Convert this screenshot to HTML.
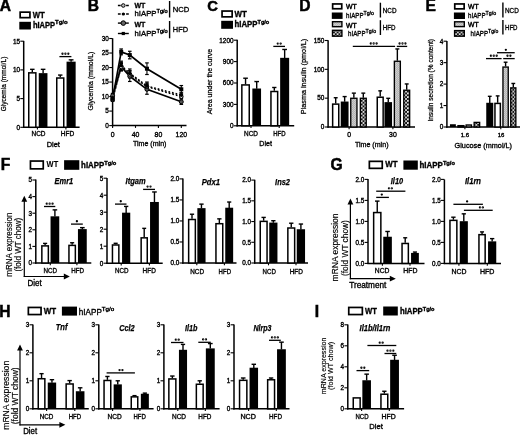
<!DOCTYPE html>
<html><head><meta charset="utf-8"><style>
html,body{margin:0;padding:0;background:#fff;overflow:hidden;}
svg{display:block;will-change:transform;}
text{font-family:"Liberation Sans", sans-serif;stroke:#000;stroke-width:0.35px;}
</style></head><body>
<svg width="520" height="435" viewBox="0 0 520 435">
<defs>
<pattern id="pg" width="2" height="2" patternUnits="userSpaceOnUse">
<rect width="2" height="2" fill="#b4b4b4"/><rect width="1" height="1" fill="#d0d0d0"/><rect x="1" y="1" width="1" height="1" fill="#c8c8c8"/>
</pattern>
<pattern id="pd" width="3.7" height="3.7" patternUnits="userSpaceOnUse">
<rect width="3.7" height="3.7" fill="#111"/><circle cx="0.9" cy="0.9" r="0.95" fill="#fff"/><circle cx="2.75" cy="2.75" r="0.95" fill="#fff"/>
</pattern>
</defs>

<text x="-0.3" y="10.8" font-size="15.6" font-weight="bold" style="stroke-width:0.5px">A</text>
<rect x="20.15" y="12.15" width="9.80" height="5.50" fill="#fff" stroke="#000" stroke-width="1.7"/>
<text x="32.8" y="18.3" font-size="8.96" font-weight="bold" textLength="12.0" lengthAdjust="spacingAndGlyphs">WT</text>
<rect x="19.30" y="21.80" width="11.60" height="7.70" fill="#000"/>
<text x="32.9" y="27.6" font-size="8.74" font-weight="bold" textLength="22.2" lengthAdjust="spacingAndGlyphs">hIAPP</text>
<text x="55.10" y="24.45" font-size="4.84" font-weight="bold" textLength="12.5" lengthAdjust="spacingAndGlyphs">Tg/o</text>
<line x1="23.70" y1="40.90" x2="23.70" y2="128.00" stroke="#000" stroke-width="1.5"/>
<line x1="20.30" y1="127.30" x2="23.70" y2="127.30" stroke="#000" stroke-width="1.1"/>
<text x="20.0" y="129.6" font-size="6.4" text-anchor="end">0</text>
<line x1="20.30" y1="98.60" x2="23.70" y2="98.60" stroke="#000" stroke-width="1.1"/>
<text x="20.0" y="100.89999999999999" font-size="6.4" text-anchor="end">5</text>
<line x1="20.30" y1="69.90" x2="23.70" y2="69.90" stroke="#000" stroke-width="1.1"/>
<text x="20.0" y="72.19999999999999" font-size="6.4" text-anchor="end">10</text>
<line x1="20.30" y1="41.20" x2="23.70" y2="41.20" stroke="#000" stroke-width="1.1"/>
<text x="20.0" y="43.499999999999986" font-size="6.4" text-anchor="end">15</text>
<line x1="23.00" y1="127.30" x2="79.60" y2="127.30" stroke="#000" stroke-width="1.5"/>
<line x1="37.40" y1="127.30" x2="37.40" y2="129.60" stroke="#000" stroke-width="1.1"/>
<line x1="65.90" y1="127.30" x2="65.90" y2="129.60" stroke="#000" stroke-width="1.1"/>
<line x1="32.30" y1="72.20" x2="32.30" y2="69.33" stroke="#000" stroke-width="1.4"/>
<line x1="30.06" y1="69.33" x2="34.54" y2="69.33" stroke="#000" stroke-width="1.4"/>
<rect x="28.75" y="72.85" width="7.10" height="54.45" fill="#fff" stroke="#000" stroke-width="1.5"/>
<line x1="43.10" y1="73.34" x2="43.10" y2="69.33" stroke="#000" stroke-width="1.4"/>
<line x1="40.80" y1="69.33" x2="45.40" y2="69.33" stroke="#000" stroke-width="1.4"/>
<rect x="38.75" y="73.14" width="8.70" height="54.16" fill="#000"/>
<line x1="60.25" y1="77.36" x2="60.25" y2="75.07" stroke="#000" stroke-width="1.4"/>
<line x1="58.04" y1="75.07" x2="62.46" y2="75.07" stroke="#000" stroke-width="1.4"/>
<rect x="56.75" y="78.01" width="7.00" height="49.29" fill="#fff" stroke="#000" stroke-width="1.5"/>
<line x1="71.10" y1="61.86" x2="71.10" y2="59.85" stroke="#000" stroke-width="1.4"/>
<line x1="68.69" y1="59.85" x2="73.51" y2="59.85" stroke="#000" stroke-width="1.4"/>
<rect x="66.55" y="61.66" width="9.10" height="65.64" fill="#000"/>
<line x1="59.40" y1="56.60" x2="71.40" y2="56.60" stroke="#000" stroke-width="1.3"/>
<circle cx="62.50" cy="53.75" r="1.15" fill="#000"/>
<circle cx="65.40" cy="53.75" r="1.15" fill="#000"/>
<circle cx="68.30" cy="53.75" r="1.15" fill="#000"/>
<line x1="62.50" y1="53.75" x2="68.30" y2="53.75" stroke="#888" stroke-width="0.5"/>
<text x="38.5" y="136.2" font-size="6.94" text-anchor="middle" textLength="14" lengthAdjust="spacingAndGlyphs">NCD</text>
<text x="67.5" y="136.2" font-size="6.94" text-anchor="middle" textLength="13.5" lengthAdjust="spacingAndGlyphs">HFD</text>
<text x="53.3" y="147" font-size="7.84" text-anchor="middle" textLength="13.2" lengthAdjust="spacingAndGlyphs">Diet</text>
<text transform="translate(6.4,84) rotate(-90)" font-size="7.39" text-anchor="middle" textLength="54.7" lengthAdjust="spacingAndGlyphs" style="stroke-width:0.26px">Glycemia (mmol/L)</text>
<text x="87.7" y="11.2" font-size="15.6" font-weight="bold" style="stroke-width:0.5px">B</text>
<line x1="112.60" y1="38.30" x2="112.60" y2="126.30" stroke="#000" stroke-width="1.5"/>
<line x1="109.20" y1="125.60" x2="112.60" y2="125.60" stroke="#000" stroke-width="1.1"/>
<text x="108.89999999999999" y="127.89999999999999" font-size="6.4" text-anchor="end">0</text>
<line x1="109.20" y1="111.08" x2="112.60" y2="111.08" stroke="#000" stroke-width="1.1"/>
<text x="108.89999999999999" y="113.38499999999999" font-size="6.4" text-anchor="end">5</text>
<line x1="109.20" y1="96.57" x2="112.60" y2="96.57" stroke="#000" stroke-width="1.1"/>
<text x="108.89999999999999" y="98.86999999999999" font-size="6.4" text-anchor="end">10</text>
<line x1="109.20" y1="82.05" x2="112.60" y2="82.05" stroke="#000" stroke-width="1.1"/>
<text x="108.89999999999999" y="84.35499999999999" font-size="6.4" text-anchor="end">15</text>
<line x1="109.20" y1="67.54" x2="112.60" y2="67.54" stroke="#000" stroke-width="1.1"/>
<text x="108.89999999999999" y="69.83999999999999" font-size="6.4" text-anchor="end">20</text>
<line x1="109.20" y1="53.02" x2="112.60" y2="53.02" stroke="#000" stroke-width="1.1"/>
<text x="108.89999999999999" y="55.32499999999999" font-size="6.4" text-anchor="end">25</text>
<line x1="109.20" y1="38.51" x2="112.60" y2="38.51" stroke="#000" stroke-width="1.1"/>
<text x="108.89999999999999" y="40.80999999999999" font-size="6.4" text-anchor="end">30</text>
<line x1="111.90" y1="125.60" x2="186.50" y2="125.60" stroke="#000" stroke-width="1.5"/>
<line x1="112.60" y1="125.60" x2="112.60" y2="127.90" stroke="#000" stroke-width="1.1"/>
<line x1="135.50" y1="125.60" x2="135.50" y2="127.90" stroke="#000" stroke-width="1.1"/>
<line x1="158.40" y1="125.60" x2="158.40" y2="127.90" stroke="#000" stroke-width="1.1"/>
<line x1="181.30" y1="125.60" x2="181.30" y2="127.90" stroke="#000" stroke-width="1.1"/>
<text x="112.6" y="136.8" font-size="6.9" text-anchor="middle">0</text>
<text x="135.5" y="136.8" font-size="6.9" text-anchor="middle">40</text>
<text x="158.39999999999998" y="136.8" font-size="6.9" text-anchor="middle">80</text>
<text x="181.3" y="136.8" font-size="6.9" text-anchor="middle">120</text>
<text x="149.7" y="146.2" font-size="7.84" text-anchor="middle" textLength="33.4" lengthAdjust="spacingAndGlyphs">Time (min)</text>
<text transform="translate(93.3,81) rotate(-90)" font-size="7.84" text-anchor="middle" textLength="58.9" lengthAdjust="spacingAndGlyphs" style="stroke-width:0.26px">Glycemia (mmol/L)</text>
<line x1="112.60" y1="97.73" x2="112.60" y2="101.21" stroke="#000" stroke-width="1.1"/>
<line x1="110.80" y1="97.73" x2="114.40" y2="97.73" stroke="#000" stroke-width="1.2"/>
<line x1="110.80" y1="101.21" x2="114.40" y2="101.21" stroke="#000" stroke-width="1.2"/>
<line x1="121.19" y1="63.48" x2="121.19" y2="70.44" stroke="#000" stroke-width="1.1"/>
<line x1="119.39" y1="63.48" x2="122.99" y2="63.48" stroke="#000" stroke-width="1.2"/>
<line x1="119.39" y1="70.44" x2="122.99" y2="70.44" stroke="#000" stroke-width="1.2"/>
<line x1="129.78" y1="70.73" x2="129.78" y2="77.70" stroke="#000" stroke-width="1.1"/>
<line x1="127.98" y1="70.73" x2="131.58" y2="70.73" stroke="#000" stroke-width="1.2"/>
<line x1="127.98" y1="77.70" x2="131.58" y2="77.70" stroke="#000" stroke-width="1.2"/>
<line x1="146.95" y1="83.22" x2="146.95" y2="90.18" stroke="#000" stroke-width="1.1"/>
<line x1="145.15" y1="83.22" x2="148.75" y2="83.22" stroke="#000" stroke-width="1.2"/>
<line x1="145.15" y1="90.18" x2="148.75" y2="90.18" stroke="#000" stroke-width="1.2"/>
<line x1="181.30" y1="94.83" x2="181.30" y2="98.31" stroke="#000" stroke-width="1.1"/>
<line x1="179.50" y1="94.83" x2="183.10" y2="94.83" stroke="#000" stroke-width="1.2"/>
<line x1="179.50" y1="98.31" x2="183.10" y2="98.31" stroke="#000" stroke-width="1.2"/>
<line x1="112.60" y1="95.70" x2="112.60" y2="100.34" stroke="#000" stroke-width="1.1"/>
<line x1="110.80" y1="95.70" x2="114.40" y2="95.70" stroke="#000" stroke-width="1.2"/>
<line x1="110.80" y1="100.34" x2="114.40" y2="100.34" stroke="#000" stroke-width="1.2"/>
<line x1="121.19" y1="61.15" x2="121.19" y2="69.86" stroke="#000" stroke-width="1.1"/>
<line x1="119.39" y1="61.15" x2="122.99" y2="61.15" stroke="#000" stroke-width="1.2"/>
<line x1="119.39" y1="69.86" x2="122.99" y2="69.86" stroke="#000" stroke-width="1.2"/>
<line x1="129.78" y1="68.99" x2="129.78" y2="77.70" stroke="#000" stroke-width="1.1"/>
<line x1="127.98" y1="68.99" x2="131.58" y2="68.99" stroke="#000" stroke-width="1.2"/>
<line x1="127.98" y1="77.70" x2="131.58" y2="77.70" stroke="#000" stroke-width="1.2"/>
<line x1="146.95" y1="82.05" x2="146.95" y2="90.18" stroke="#000" stroke-width="1.1"/>
<line x1="145.15" y1="82.05" x2="148.75" y2="82.05" stroke="#000" stroke-width="1.2"/>
<line x1="145.15" y1="90.18" x2="148.75" y2="90.18" stroke="#000" stroke-width="1.2"/>
<line x1="181.30" y1="92.80" x2="181.30" y2="97.44" stroke="#000" stroke-width="1.1"/>
<line x1="179.50" y1="92.80" x2="183.10" y2="92.80" stroke="#000" stroke-width="1.2"/>
<line x1="179.50" y1="97.44" x2="183.10" y2="97.44" stroke="#000" stroke-width="1.2"/>
<line x1="112.60" y1="93.38" x2="112.60" y2="98.02" stroke="#000" stroke-width="1.1"/>
<line x1="110.80" y1="93.38" x2="114.40" y2="93.38" stroke="#000" stroke-width="1.2"/>
<line x1="110.80" y1="98.02" x2="114.40" y2="98.02" stroke="#000" stroke-width="1.2"/>
<line x1="121.19" y1="62.31" x2="121.19" y2="71.02" stroke="#000" stroke-width="1.1"/>
<line x1="119.39" y1="62.31" x2="122.99" y2="62.31" stroke="#000" stroke-width="1.2"/>
<line x1="119.39" y1="71.02" x2="122.99" y2="71.02" stroke="#000" stroke-width="1.2"/>
<line x1="129.78" y1="71.02" x2="129.78" y2="81.47" stroke="#000" stroke-width="1.1"/>
<line x1="127.98" y1="71.02" x2="131.58" y2="71.02" stroke="#000" stroke-width="1.2"/>
<line x1="127.98" y1="81.47" x2="131.58" y2="81.47" stroke="#000" stroke-width="1.2"/>
<line x1="146.95" y1="84.38" x2="146.95" y2="94.25" stroke="#000" stroke-width="1.1"/>
<line x1="145.15" y1="84.38" x2="148.75" y2="84.38" stroke="#000" stroke-width="1.2"/>
<line x1="145.15" y1="94.25" x2="148.75" y2="94.25" stroke="#000" stroke-width="1.2"/>
<line x1="181.30" y1="99.18" x2="181.30" y2="104.41" stroke="#000" stroke-width="1.1"/>
<line x1="179.50" y1="99.18" x2="183.10" y2="99.18" stroke="#000" stroke-width="1.2"/>
<line x1="179.50" y1="104.41" x2="183.10" y2="104.41" stroke="#000" stroke-width="1.2"/>
<line x1="112.60" y1="96.57" x2="112.60" y2="101.21" stroke="#000" stroke-width="1.1"/>
<line x1="110.80" y1="96.57" x2="114.40" y2="96.57" stroke="#000" stroke-width="1.2"/>
<line x1="110.80" y1="101.21" x2="114.40" y2="101.21" stroke="#000" stroke-width="1.2"/>
<line x1="121.19" y1="48.96" x2="121.19" y2="54.77" stroke="#000" stroke-width="1.1"/>
<line x1="119.39" y1="48.96" x2="122.99" y2="48.96" stroke="#000" stroke-width="1.2"/>
<line x1="119.39" y1="54.77" x2="122.99" y2="54.77" stroke="#000" stroke-width="1.2"/>
<line x1="129.78" y1="51.28" x2="129.78" y2="58.83" stroke="#000" stroke-width="1.1"/>
<line x1="127.98" y1="51.28" x2="131.58" y2="51.28" stroke="#000" stroke-width="1.2"/>
<line x1="127.98" y1="58.83" x2="131.58" y2="58.83" stroke="#000" stroke-width="1.2"/>
<line x1="146.95" y1="62.90" x2="146.95" y2="74.51" stroke="#000" stroke-width="1.1"/>
<line x1="145.15" y1="62.90" x2="148.75" y2="62.90" stroke="#000" stroke-width="1.2"/>
<line x1="145.15" y1="74.51" x2="148.75" y2="74.51" stroke="#000" stroke-width="1.2"/>
<line x1="181.30" y1="85.54" x2="181.30" y2="93.09" stroke="#000" stroke-width="1.1"/>
<line x1="179.50" y1="85.54" x2="183.10" y2="85.54" stroke="#000" stroke-width="1.2"/>
<line x1="179.50" y1="93.09" x2="183.10" y2="93.09" stroke="#000" stroke-width="1.2"/>
<polyline points="112.60,95.70 121.19,66.67 129.78,76.25 146.95,89.31 181.30,101.80" fill="none" stroke="#000" stroke-width="1.7"/>
<polyline points="112.60,98.89 121.19,51.86 129.78,55.06 146.95,68.70 181.30,89.31" fill="none" stroke="#000" stroke-width="1.7"/>
<polyline points="112.60,99.47 121.19,66.96 129.78,74.22 146.95,86.70 181.30,96.57" fill="none" stroke="#000" stroke-width="1.5" stroke-dasharray="1.7,2.0"/>
<polyline points="112.60,98.02 121.19,65.51 129.78,73.35 146.95,86.12 181.30,95.12" fill="none" stroke="#000" stroke-width="1.7" stroke-dasharray="1.7,2.0"/>
<circle cx="112.60" cy="95.70" r="2.0" fill="#555" stroke="#000" stroke-width="1"/>
<circle cx="121.19" cy="66.67" r="2.0" fill="#555" stroke="#000" stroke-width="1"/>
<circle cx="129.78" cy="76.25" r="2.0" fill="#555" stroke="#000" stroke-width="1"/>
<circle cx="146.95" cy="89.31" r="2.0" fill="#555" stroke="#000" stroke-width="1"/>
<circle cx="181.30" cy="101.80" r="2.0" fill="#555" stroke="#000" stroke-width="1"/>
<circle cx="112.60" cy="99.47" r="1.8" fill="#fff" stroke="#000" stroke-width="1"/>
<circle cx="121.19" cy="66.96" r="1.8" fill="#fff" stroke="#000" stroke-width="1"/>
<circle cx="129.78" cy="74.22" r="1.8" fill="#fff" stroke="#000" stroke-width="1"/>
<circle cx="146.95" cy="86.70" r="1.8" fill="#fff" stroke="#000" stroke-width="1"/>
<circle cx="181.30" cy="96.57" r="1.8" fill="#fff" stroke="#000" stroke-width="1"/>
<circle cx="112.60" cy="98.02" r="1.9" fill="#000"/>
<circle cx="121.19" cy="65.51" r="1.9" fill="#000"/>
<circle cx="129.78" cy="73.35" r="1.9" fill="#000"/>
<circle cx="146.95" cy="86.12" r="1.9" fill="#000"/>
<circle cx="181.30" cy="95.12" r="1.9" fill="#000"/>
<rect x="110.60" y="96.89" width="4.00" height="4.00" fill="#000"/>
<rect x="119.19" y="49.86" width="4.00" height="4.00" fill="#000"/>
<rect x="127.78" y="53.06" width="4.00" height="4.00" fill="#000"/>
<rect x="144.95" y="66.70" width="4.00" height="4.00" fill="#000"/>
<rect x="179.30" y="87.31" width="4.00" height="4.00" fill="#000"/>
<line x1="117.90" y1="5.50" x2="128.80" y2="5.50" stroke="#000" stroke-width="1.4" stroke-dasharray="2.8,1.3"/>
<circle cx="123.3" cy="5.5" r="1.8" fill="#bbb" stroke="#000" stroke-width="1.0"/>
<line x1="117.90" y1="14.00" x2="128.80" y2="14.00" stroke="#000" stroke-width="1.5" stroke-dasharray="2.8,1.3"/>
<circle cx="123.3" cy="14.0" r="1.6" fill="#000"/>
<line x1="117.90" y1="23.10" x2="128.80" y2="23.10" stroke="#000" stroke-width="1.4"/>
<circle cx="123.3" cy="23.1" r="2.3" fill="#666" stroke="#000" stroke-width="1.0"/>
<line x1="117.90" y1="33.50" x2="128.80" y2="33.50" stroke="#000" stroke-width="1.4"/>
<rect x="121.70" y="31.90" width="3.20" height="3.20" fill="#000"/>
<text x="134.5" y="7.5" font-size="8.06" font-weight="bold" textLength="10.9" lengthAdjust="spacingAndGlyphs">WT</text>
<text x="134.5" y="16.2" font-size="8.06" textLength="22.0" lengthAdjust="spacingAndGlyphs">hIAPP</text>
<text x="156.50" y="13.30" font-size="4.46" textLength="11.2" lengthAdjust="spacingAndGlyphs">Tg/o</text>
<text x="134.5" y="26.7" font-size="8.06" font-weight="bold" textLength="10.9" lengthAdjust="spacingAndGlyphs">WT</text>
<text x="134.5" y="35.8" font-size="8.06" textLength="22.0" lengthAdjust="spacingAndGlyphs">hIAPP</text>
<text x="156.50" y="32.90" font-size="4.46" textLength="11.2" lengthAdjust="spacingAndGlyphs">Tg/o</text>
<line x1="169.60" y1="1.00" x2="169.60" y2="17.50" stroke="#000" stroke-width="1.4"/>
<line x1="169.60" y1="21.00" x2="169.60" y2="38.30" stroke="#000" stroke-width="1.4"/>
<text x="172.8" y="12.4" font-size="8.06" textLength="16.5" lengthAdjust="spacingAndGlyphs">NCD</text>
<text x="172.8" y="32.3" font-size="8.06" textLength="15.2" lengthAdjust="spacingAndGlyphs">HFD</text>
<text x="207.2" y="11.2" font-size="14.8" font-weight="bold" style="stroke-width:0.5px">C</text>
<rect x="222.05" y="11.05" width="10.10" height="5.80" fill="#fff" stroke="#000" stroke-width="1.7"/>
<text x="234.5" y="17.3" font-size="8.74" font-weight="bold" textLength="12.3" lengthAdjust="spacingAndGlyphs">WT</text>
<rect x="221.20" y="20.80" width="11.80" height="8.00" fill="#000"/>
<text x="234.5" y="27.0" font-size="8.74" font-weight="bold" textLength="23" lengthAdjust="spacingAndGlyphs">hIAPP</text>
<text x="257.50" y="23.85" font-size="4.84" font-weight="bold" textLength="11.8" lengthAdjust="spacingAndGlyphs">Tg/o</text>
<line x1="237.20" y1="39.70" x2="237.20" y2="126.50" stroke="#000" stroke-width="1.5"/>
<line x1="233.80" y1="125.80" x2="237.20" y2="125.80" stroke="#000" stroke-width="1.1"/>
<text x="233.49999999999997" y="128.1" font-size="6.4" text-anchor="end">0</text>
<line x1="233.80" y1="104.40" x2="237.20" y2="104.40" stroke="#000" stroke-width="1.1"/>
<text x="233.49999999999997" y="106.7" font-size="6.4" text-anchor="end">300</text>
<line x1="233.80" y1="83.00" x2="237.20" y2="83.00" stroke="#000" stroke-width="1.1"/>
<text x="233.49999999999997" y="85.3" font-size="6.4" text-anchor="end">600</text>
<line x1="233.80" y1="61.60" x2="237.20" y2="61.60" stroke="#000" stroke-width="1.1"/>
<text x="233.49999999999997" y="63.89999999999999" font-size="6.4" text-anchor="end">900</text>
<line x1="233.80" y1="40.20" x2="237.20" y2="40.20" stroke="#000" stroke-width="1.1"/>
<text x="233.49999999999997" y="42.5" font-size="6.4" text-anchor="end">1200</text>
<line x1="236.50" y1="125.80" x2="294.20" y2="125.80" stroke="#000" stroke-width="1.5"/>
<line x1="251.00" y1="125.80" x2="251.00" y2="128.10" stroke="#000" stroke-width="1.1"/>
<line x1="279.20" y1="125.80" x2="279.20" y2="128.10" stroke="#000" stroke-width="1.1"/>
<line x1="245.55" y1="84.28" x2="245.55" y2="78.22" stroke="#000" stroke-width="1.4"/>
<line x1="243.23" y1="78.22" x2="247.87" y2="78.22" stroke="#000" stroke-width="1.4"/>
<rect x="241.85" y="84.93" width="7.40" height="40.87" fill="#fff" stroke="#000" stroke-width="1.5"/>
<line x1="256.70" y1="88.71" x2="256.70" y2="81.57" stroke="#000" stroke-width="1.4"/>
<line x1="254.40" y1="81.57" x2="259.00" y2="81.57" stroke="#000" stroke-width="1.4"/>
<rect x="252.35" y="88.51" width="8.70" height="37.29" fill="#000"/>
<line x1="274.30" y1="90.85" x2="274.30" y2="87.49" stroke="#000" stroke-width="1.4"/>
<line x1="272.17" y1="87.49" x2="276.43" y2="87.49" stroke="#000" stroke-width="1.4"/>
<rect x="270.95" y="91.50" width="6.70" height="34.30" fill="#fff" stroke="#000" stroke-width="1.5"/>
<line x1="284.65" y1="58.03" x2="284.65" y2="49.47" stroke="#000" stroke-width="1.4"/>
<line x1="282.27" y1="49.47" x2="287.03" y2="49.47" stroke="#000" stroke-width="1.4"/>
<rect x="280.15" y="57.83" width="9.00" height="67.97" fill="#000"/>
<line x1="273.30" y1="46.40" x2="285.00" y2="46.40" stroke="#000" stroke-width="1.3"/>
<circle cx="277.75" cy="43.55" r="1.15" fill="#000"/>
<circle cx="280.65" cy="43.55" r="1.15" fill="#000"/>
<line x1="277.75" y1="43.55" x2="280.65" y2="43.55" stroke="#888" stroke-width="0.5"/>
<text x="251.0" y="135.6" font-size="6.94" text-anchor="middle" textLength="13.9" lengthAdjust="spacingAndGlyphs">NCD</text>
<text x="279.4" y="135.6" font-size="6.94" text-anchor="middle" textLength="12.3" lengthAdjust="spacingAndGlyphs">HFD</text>
<text x="265.6" y="145.7" font-size="7.84" text-anchor="middle" textLength="12.6" lengthAdjust="spacingAndGlyphs">Diet</text>
<text transform="translate(212.0,81.5) rotate(-90)" font-size="7.84" text-anchor="middle" textLength="65.5" lengthAdjust="spacingAndGlyphs" style="stroke-width:0.26px">Area under the curve</text>
<text x="299.3" y="11.0" font-size="15.6" font-weight="bold" style="stroke-width:0.5px">D</text>
<rect x="332.65" y="3.95" width="9.10" height="4.80" fill="#fff" stroke="#000" stroke-width="1.7"/>
<rect x="331.80" y="12.50" width="10.80" height="6.40" fill="#000"/>
<rect x="332.50" y="21.70" width="9.40" height="5.00" fill="url(#pg)" stroke="#000" stroke-width="1.4"/>
<rect x="332.50" y="30.30" width="9.40" height="5.90" fill="url(#pd)" stroke="#000" stroke-width="1.4"/>
<text x="346.0" y="9.2" font-size="7.06" textLength="10.8" lengthAdjust="spacingAndGlyphs" style="stroke-width:0.45px">WT</text>
<text x="346.0" y="17.9" font-size="7.62" textLength="17.5" lengthAdjust="spacingAndGlyphs">hIAPP</text>
<text x="363.50" y="15.16" font-size="5.40" textLength="10.5" lengthAdjust="spacingAndGlyphs">Tg/o</text>
<text x="346.0" y="27.6" font-size="7.06" textLength="10.8" lengthAdjust="spacingAndGlyphs" style="stroke-width:0.45px">WT</text>
<text x="348.1" y="35.6" font-size="7.62" textLength="17.5" lengthAdjust="spacingAndGlyphs">hIAPP</text>
<text x="365.60" y="32.86" font-size="5.40" textLength="10.5" lengthAdjust="spacingAndGlyphs">Tg/o</text>
<line x1="380.40" y1="2.70" x2="380.40" y2="17.50" stroke="#000" stroke-width="1.4"/>
<line x1="380.40" y1="20.20" x2="380.40" y2="35.00" stroke="#000" stroke-width="1.4"/>
<text x="382.8" y="13.0" font-size="7.84" textLength="13.7" lengthAdjust="spacingAndGlyphs">NCD</text>
<text x="382.8" y="29.9" font-size="7.84" textLength="12.7" lengthAdjust="spacingAndGlyphs">HFD</text>
<line x1="328.10" y1="40.20" x2="328.10" y2="127.70" stroke="#000" stroke-width="1.5"/>
<line x1="324.70" y1="127.00" x2="328.10" y2="127.00" stroke="#000" stroke-width="1.1"/>
<text x="324.40000000000003" y="129.3" font-size="6.4" text-anchor="end">0</text>
<line x1="324.70" y1="98.17" x2="328.10" y2="98.17" stroke="#000" stroke-width="1.1"/>
<text x="324.40000000000003" y="100.46666666666667" font-size="6.4" text-anchor="end">50</text>
<line x1="324.70" y1="69.33" x2="328.10" y2="69.33" stroke="#000" stroke-width="1.1"/>
<text x="324.40000000000003" y="71.63333333333334" font-size="6.4" text-anchor="end">100</text>
<line x1="324.70" y1="40.50" x2="328.10" y2="40.50" stroke="#000" stroke-width="1.1"/>
<text x="324.40000000000003" y="42.8" font-size="6.4" text-anchor="end">150</text>
<line x1="327.40" y1="127.00" x2="415.00" y2="127.00" stroke="#000" stroke-width="1.5"/>
<line x1="349.10" y1="127.00" x2="349.10" y2="129.30" stroke="#000" stroke-width="1.1"/>
<line x1="392.90" y1="127.00" x2="392.90" y2="129.30" stroke="#000" stroke-width="1.1"/>
<line x1="335.70" y1="103.47" x2="335.70" y2="97.73" stroke="#000" stroke-width="1.4"/>
<line x1="333.74" y1="97.73" x2="337.66" y2="97.73" stroke="#000" stroke-width="1.4"/>
<rect x="332.65" y="104.12" width="6.10" height="22.88" fill="#fff" stroke="#000" stroke-width="1.5"/>
<line x1="344.65" y1="101.74" x2="344.65" y2="96.58" stroke="#000" stroke-width="1.4"/>
<line x1="342.61" y1="96.58" x2="346.69" y2="96.58" stroke="#000" stroke-width="1.4"/>
<rect x="340.75" y="101.54" width="7.80" height="25.46" fill="#000"/>
<line x1="353.85" y1="97.73" x2="353.85" y2="93.13" stroke="#000" stroke-width="1.4"/>
<line x1="351.81" y1="93.13" x2="355.89" y2="93.13" stroke="#000" stroke-width="1.4"/>
<rect x="350.75" y="98.28" width="6.20" height="28.72" fill="url(#pg)" stroke="#000" stroke-width="1.35"/>
<line x1="363.30" y1="97.73" x2="363.30" y2="93.13" stroke="#000" stroke-width="1.4"/>
<line x1="361.34" y1="93.13" x2="365.26" y2="93.13" stroke="#000" stroke-width="1.4"/>
<rect x="360.35" y="98.28" width="5.90" height="28.72" fill="url(#pd)" stroke="#000" stroke-width="1.35"/>
<line x1="380.20" y1="96.58" x2="380.20" y2="90.84" stroke="#000" stroke-width="1.4"/>
<line x1="378.30" y1="90.84" x2="382.10" y2="90.84" stroke="#000" stroke-width="1.4"/>
<rect x="377.25" y="97.23" width="5.90" height="29.77" fill="#fff" stroke="#000" stroke-width="1.5"/>
<line x1="388.25" y1="102.32" x2="388.25" y2="98.30" stroke="#000" stroke-width="1.4"/>
<line x1="386.26" y1="98.30" x2="390.24" y2="98.30" stroke="#000" stroke-width="1.4"/>
<rect x="384.45" y="102.12" width="7.60" height="24.88" fill="#000"/>
<line x1="397.35" y1="60.70" x2="397.35" y2="48.94" stroke="#000" stroke-width="1.4"/>
<line x1="395.36" y1="48.94" x2="399.34" y2="48.94" stroke="#000" stroke-width="1.4"/>
<rect x="394.35" y="61.25" width="6.00" height="65.75" fill="url(#pg)" stroke="#000" stroke-width="1.35"/>
<line x1="406.70" y1="89.69" x2="406.70" y2="83.95" stroke="#000" stroke-width="1.4"/>
<line x1="404.74" y1="83.95" x2="408.66" y2="83.95" stroke="#000" stroke-width="1.4"/>
<rect x="403.75" y="90.24" width="5.90" height="36.76" fill="url(#pd)" stroke="#000" stroke-width="1.35"/>
<line x1="352.80" y1="46.40" x2="395.10" y2="46.40" stroke="#000" stroke-width="1.3"/>
<line x1="396.80" y1="46.40" x2="407.20" y2="46.40" stroke="#000" stroke-width="1.3"/>
<circle cx="370.80" cy="43.50" r="1.15" fill="#000"/>
<circle cx="373.70" cy="43.50" r="1.15" fill="#000"/>
<circle cx="376.60" cy="43.50" r="1.15" fill="#000"/>
<line x1="370.80" y1="43.50" x2="376.60" y2="43.50" stroke="#888" stroke-width="0.5"/>
<circle cx="399.60" cy="43.50" r="1.15" fill="#000"/>
<circle cx="402.50" cy="43.50" r="1.15" fill="#000"/>
<circle cx="405.40" cy="43.50" r="1.15" fill="#000"/>
<line x1="399.60" y1="43.50" x2="405.40" y2="43.50" stroke="#888" stroke-width="0.5"/>
<text x="349.1" y="137.1" font-size="6.9" text-anchor="middle">0</text>
<text x="392.9" y="137.1" font-size="6.9" text-anchor="middle">30</text>
<text x="371.7" y="147.3" font-size="7.84" text-anchor="middle" textLength="33.6" lengthAdjust="spacingAndGlyphs">Time (min)</text>
<text transform="translate(305.6,76.5) rotate(-90)" font-size="8.06" text-anchor="middle" textLength="75.5" lengthAdjust="spacingAndGlyphs" style="stroke-width:0.26px">Plasma insulin (pmol/L)</text>
<text x="425.5" y="11.0" font-size="15.6" font-weight="bold" style="stroke-width:0.5px">E</text>
<rect x="454.75" y="3.95" width="9.40" height="4.90" fill="#fff" stroke="#000" stroke-width="1.7"/>
<rect x="453.90" y="12.50" width="11.10" height="6.50" fill="#000"/>
<rect x="454.60" y="21.80" width="9.70" height="4.80" fill="url(#pg)" stroke="#000" stroke-width="1.4"/>
<rect x="454.60" y="30.60" width="9.70" height="5.60" fill="url(#pd)" stroke="#000" stroke-width="1.4"/>
<text x="468.1" y="9.0" font-size="7.06" textLength="10.7" lengthAdjust="spacingAndGlyphs" style="stroke-width:0.45px">WT</text>
<text x="468.1" y="17.8" font-size="7.62" textLength="17.5" lengthAdjust="spacingAndGlyphs">hIAPP</text>
<text x="485.60" y="15.06" font-size="5.40" textLength="10.5" lengthAdjust="spacingAndGlyphs">Tg/o</text>
<text x="468.1" y="26.9" font-size="7.06" textLength="10.7" lengthAdjust="spacingAndGlyphs" style="stroke-width:0.45px">WT</text>
<text x="470.6" y="35.8" font-size="7.62" textLength="17.5" lengthAdjust="spacingAndGlyphs">hIAPP</text>
<text x="488.10" y="33.06" font-size="5.40" textLength="10.2" lengthAdjust="spacingAndGlyphs">Tg/o</text>
<line x1="502.90" y1="2.50" x2="502.90" y2="17.50" stroke="#000" stroke-width="1.4"/>
<line x1="502.90" y1="20.00" x2="502.90" y2="34.40" stroke="#000" stroke-width="1.4"/>
<text x="505.0" y="13.1" font-size="7.84" textLength="13.8" lengthAdjust="spacingAndGlyphs">NCD</text>
<text x="505.0" y="29.8" font-size="7.84" textLength="12.5" lengthAdjust="spacingAndGlyphs">HFD</text>
<line x1="446.90" y1="40.90" x2="446.90" y2="127.70" stroke="#000" stroke-width="1.5"/>
<line x1="443.50" y1="127.00" x2="446.90" y2="127.00" stroke="#000" stroke-width="1.1"/>
<text x="443.2" y="129.3" font-size="6.4" text-anchor="end">0</text>
<line x1="443.50" y1="105.55" x2="446.90" y2="105.55" stroke="#000" stroke-width="1.1"/>
<text x="443.2" y="107.85" font-size="6.4" text-anchor="end">1</text>
<line x1="443.50" y1="84.10" x2="446.90" y2="84.10" stroke="#000" stroke-width="1.1"/>
<text x="443.2" y="86.39999999999999" font-size="6.4" text-anchor="end">2</text>
<line x1="443.50" y1="62.65" x2="446.90" y2="62.65" stroke="#000" stroke-width="1.1"/>
<text x="443.2" y="64.95" font-size="6.4" text-anchor="end">3</text>
<line x1="443.50" y1="41.20" x2="446.90" y2="41.20" stroke="#000" stroke-width="1.1"/>
<text x="443.2" y="43.5" font-size="6.4" text-anchor="end">4</text>
<line x1="446.20" y1="127.00" x2="520.00" y2="127.00" stroke="#000" stroke-width="1.5"/>
<line x1="464.90" y1="127.00" x2="464.90" y2="129.30" stroke="#000" stroke-width="1.1"/>
<line x1="500.80" y1="127.00" x2="500.80" y2="129.30" stroke="#000" stroke-width="1.1"/>
<rect x="449.95" y="124.23" width="5.90" height="2.77" fill="#000"/>
<rect x="458.05" y="125.72" width="5.80" height="1.28" fill="#fff" stroke="#000" stroke-width="1.5"/>
<rect x="466.15" y="124.98" width="5.30" height="2.02" fill="url(#pg)" stroke="#000" stroke-width="1.35"/>
<rect x="474.15" y="122.40" width="5.50" height="4.60" fill="url(#pd)" stroke="#000" stroke-width="1.35"/>
<line x1="489.75" y1="102.98" x2="489.75" y2="96.33" stroke="#000" stroke-width="1.4"/>
<line x1="487.85" y1="96.33" x2="491.65" y2="96.33" stroke="#000" stroke-width="1.4"/>
<rect x="486.25" y="102.78" width="7.00" height="24.22" fill="#000"/>
<line x1="497.65" y1="102.76" x2="497.65" y2="95.90" stroke="#000" stroke-width="1.4"/>
<line x1="495.75" y1="95.90" x2="499.55" y2="95.90" stroke="#000" stroke-width="1.4"/>
<rect x="494.95" y="103.41" width="5.40" height="23.59" fill="#fff" stroke="#000" stroke-width="1.5"/>
<line x1="505.60" y1="66.51" x2="505.60" y2="62.22" stroke="#000" stroke-width="1.4"/>
<line x1="503.70" y1="62.22" x2="507.50" y2="62.22" stroke="#000" stroke-width="1.4"/>
<rect x="502.95" y="67.06" width="5.30" height="59.94" fill="url(#pg)" stroke="#000" stroke-width="1.35"/>
<line x1="513.30" y1="87.32" x2="513.30" y2="83.46" stroke="#000" stroke-width="1.4"/>
<line x1="511.40" y1="83.46" x2="515.20" y2="83.46" stroke="#000" stroke-width="1.4"/>
<rect x="510.75" y="87.87" width="5.10" height="39.13" fill="url(#pd)" stroke="#000" stroke-width="1.35"/>
<line x1="497.00" y1="52.70" x2="514.70" y2="52.70" stroke="#000" stroke-width="1.3"/>
<circle cx="505.85" cy="49.85" r="1.15" fill="#000"/>
<line x1="486.00" y1="58.60" x2="501.60" y2="58.60" stroke="#000" stroke-width="1.3"/>
<circle cx="490.90" cy="55.75" r="1.15" fill="#000"/>
<circle cx="493.80" cy="55.75" r="1.15" fill="#000"/>
<circle cx="496.70" cy="55.75" r="1.15" fill="#000"/>
<line x1="490.90" y1="55.75" x2="496.70" y2="55.75" stroke="#888" stroke-width="0.5"/>
<line x1="503.20" y1="58.60" x2="514.70" y2="58.60" stroke="#000" stroke-width="1.3"/>
<circle cx="507.50" cy="55.75" r="1.15" fill="#000"/>
<circle cx="510.40" cy="55.75" r="1.15" fill="#000"/>
<line x1="507.50" y1="55.75" x2="510.40" y2="55.75" stroke="#888" stroke-width="0.5"/>
<text x="464.8" y="137.0" font-size="6.0" text-anchor="middle">1.6</text>
<text x="501.1" y="137.0" font-size="6.0" text-anchor="middle">16</text>
<text x="483.3" y="148.1" font-size="7.84" text-anchor="middle" textLength="57.4" lengthAdjust="spacingAndGlyphs">Glucose (mmol/L)</text>
<text transform="translate(432.8,80.2) rotate(-90)" font-size="7.28" text-anchor="middle" textLength="82.5" lengthAdjust="spacingAndGlyphs" style="stroke-width:0.26px">Insulin secretion (% content)</text>
<text x="0.7" y="169.9" font-size="15.6" font-weight="bold" style="stroke-width:0.5px">F</text>
<rect x="30.45" y="161.05" width="12.80" height="7.80" fill="#fff" stroke="#000" stroke-width="1.7"/>
<text x="46.6" y="167.3" font-size="8.74" font-weight="bold" textLength="11.6" lengthAdjust="spacingAndGlyphs" style="stroke-width:0.1px">WT</text>
<rect x="64.10" y="160.20" width="15.20" height="9.60" fill="#000"/>
<text x="81.1" y="167.9" font-size="8.74" font-weight="bold" textLength="23.2" lengthAdjust="spacingAndGlyphs">hIAPP</text>
<text x="104.30" y="164.75" font-size="4.84" font-weight="bold" textLength="12" lengthAdjust="spacingAndGlyphs">Tg/o</text>
<line x1="35.80" y1="179.50" x2="35.80" y2="263.70" stroke="#000" stroke-width="1.5"/>
<line x1="32.40" y1="263.00" x2="35.80" y2="263.00" stroke="#000" stroke-width="1.1"/>
<text x="32.1" y="265.3" font-size="6.3" text-anchor="end">0</text>
<line x1="32.40" y1="246.40" x2="35.80" y2="246.40" stroke="#000" stroke-width="1.1"/>
<text x="32.1" y="248.70000000000002" font-size="6.3" text-anchor="end">1</text>
<line x1="32.40" y1="229.80" x2="35.80" y2="229.80" stroke="#000" stroke-width="1.1"/>
<text x="32.1" y="232.10000000000002" font-size="6.3" text-anchor="end">2</text>
<line x1="32.40" y1="213.20" x2="35.80" y2="213.20" stroke="#000" stroke-width="1.1"/>
<text x="32.1" y="215.5" font-size="6.3" text-anchor="end">3</text>
<line x1="32.40" y1="196.60" x2="35.80" y2="196.60" stroke="#000" stroke-width="1.1"/>
<text x="32.1" y="198.9" font-size="6.3" text-anchor="end">4</text>
<line x1="32.40" y1="180.00" x2="35.80" y2="180.00" stroke="#000" stroke-width="1.1"/>
<text x="32.1" y="182.3" font-size="6.3" text-anchor="end">5</text>
<line x1="35.10" y1="263.00" x2="91.30" y2="263.00" stroke="#000" stroke-width="1.5"/>
<line x1="50.30" y1="263.00" x2="50.30" y2="265.30" stroke="#000" stroke-width="1.1"/>
<line x1="76.90" y1="263.00" x2="76.90" y2="265.30" stroke="#000" stroke-width="1.1"/>
<line x1="45.10" y1="245.24" x2="45.10" y2="243.41" stroke="#000" stroke-width="1.4"/>
<line x1="43.03" y1="243.41" x2="47.17" y2="243.41" stroke="#000" stroke-width="1.4"/>
<rect x="41.85" y="245.89" width="6.50" height="17.11" fill="#fff" stroke="#000" stroke-width="1.5"/>
<line x1="54.90" y1="216.52" x2="54.90" y2="209.88" stroke="#000" stroke-width="1.4"/>
<line x1="52.60" y1="209.88" x2="57.20" y2="209.88" stroke="#000" stroke-width="1.4"/>
<rect x="50.55" y="216.32" width="8.70" height="46.68" fill="#000"/>
<line x1="72.15" y1="244.74" x2="72.15" y2="242.75" stroke="#000" stroke-width="1.4"/>
<line x1="70.11" y1="242.75" x2="74.19" y2="242.75" stroke="#000" stroke-width="1.4"/>
<rect x="68.95" y="245.39" width="6.40" height="17.61" fill="#fff" stroke="#000" stroke-width="1.5"/>
<line x1="82.35" y1="229.30" x2="82.35" y2="227.64" stroke="#000" stroke-width="1.4"/>
<line x1="80.03" y1="227.64" x2="84.67" y2="227.64" stroke="#000" stroke-width="1.4"/>
<rect x="77.95" y="229.10" width="8.80" height="33.90" fill="#000"/>
<text x="54.5" y="184.4" font-size="8.62" font-weight="bold" font-style="italic" textLength="18.7" lengthAdjust="spacingAndGlyphs" style="stroke-width:0.25px">Emr1</text>
<text x="50.3" y="273.0" font-size="6.94" text-anchor="middle" textLength="13.5" lengthAdjust="spacingAndGlyphs">NCD</text>
<text x="77.6" y="273.0" font-size="6.94" text-anchor="middle" textLength="12.8" lengthAdjust="spacingAndGlyphs">HFD</text>
<line x1="44.00" y1="206.50" x2="55.30" y2="206.50" stroke="#000" stroke-width="1.3"/>
<circle cx="46.75" cy="203.65" r="1.15" fill="#000"/>
<circle cx="49.65" cy="203.65" r="1.15" fill="#000"/>
<circle cx="52.55" cy="203.65" r="1.15" fill="#000"/>
<line x1="46.75" y1="203.65" x2="52.55" y2="203.65" stroke="#888" stroke-width="0.5"/>
<line x1="71.00" y1="224.10" x2="82.80" y2="224.10" stroke="#000" stroke-width="1.3"/>
<circle cx="76.90" cy="221.25" r="1.15" fill="#000"/>
<line x1="107.00" y1="177.90" x2="107.00" y2="263.90" stroke="#000" stroke-width="1.5"/>
<line x1="103.60" y1="263.20" x2="107.00" y2="263.20" stroke="#000" stroke-width="1.1"/>
<text x="103.3" y="265.5" font-size="6.3" text-anchor="end">0</text>
<line x1="103.60" y1="246.20" x2="107.00" y2="246.20" stroke="#000" stroke-width="1.1"/>
<text x="103.3" y="248.5" font-size="6.3" text-anchor="end">1</text>
<line x1="103.60" y1="229.20" x2="107.00" y2="229.20" stroke="#000" stroke-width="1.1"/>
<text x="103.3" y="231.5" font-size="6.3" text-anchor="end">2</text>
<line x1="103.60" y1="212.20" x2="107.00" y2="212.20" stroke="#000" stroke-width="1.1"/>
<text x="103.3" y="214.5" font-size="6.3" text-anchor="end">3</text>
<line x1="103.60" y1="195.20" x2="107.00" y2="195.20" stroke="#000" stroke-width="1.1"/>
<text x="103.3" y="197.5" font-size="6.3" text-anchor="end">4</text>
<line x1="103.60" y1="178.20" x2="107.00" y2="178.20" stroke="#000" stroke-width="1.1"/>
<text x="103.3" y="180.5" font-size="6.3" text-anchor="end">5</text>
<line x1="106.30" y1="263.20" x2="162.70" y2="263.20" stroke="#000" stroke-width="1.5"/>
<line x1="121.20" y1="263.20" x2="121.20" y2="265.50" stroke="#000" stroke-width="1.1"/>
<line x1="149.40" y1="263.20" x2="149.40" y2="265.50" stroke="#000" stroke-width="1.1"/>
<line x1="115.65" y1="244.33" x2="115.65" y2="243.31" stroke="#000" stroke-width="1.4"/>
<line x1="113.61" y1="243.31" x2="117.69" y2="243.31" stroke="#000" stroke-width="1.4"/>
<rect x="112.45" y="244.98" width="6.40" height="18.22" fill="#fff" stroke="#000" stroke-width="1.5"/>
<line x1="126.15" y1="212.88" x2="126.15" y2="206.42" stroke="#000" stroke-width="1.4"/>
<line x1="123.99" y1="206.42" x2="128.31" y2="206.42" stroke="#000" stroke-width="1.4"/>
<rect x="122.05" y="212.68" width="8.20" height="50.52" fill="#000"/>
<line x1="144.20" y1="237.19" x2="144.20" y2="228.35" stroke="#000" stroke-width="1.4"/>
<line x1="142.24" y1="228.35" x2="146.16" y2="228.35" stroke="#000" stroke-width="1.4"/>
<rect x="141.15" y="237.84" width="6.10" height="25.36" fill="#fff" stroke="#000" stroke-width="1.5"/>
<line x1="154.45" y1="202.17" x2="154.45" y2="191.97" stroke="#000" stroke-width="1.4"/>
<line x1="152.13" y1="191.97" x2="156.77" y2="191.97" stroke="#000" stroke-width="1.4"/>
<rect x="150.05" y="201.97" width="8.80" height="61.23" fill="#000"/>
<text x="125.6" y="183.6" font-size="8.62" font-weight="bold" font-style="italic" textLength="20.0" lengthAdjust="spacingAndGlyphs" style="stroke-width:0.25px">Itgam</text>
<text x="121.7" y="273.0" font-size="6.94" text-anchor="middle" textLength="13.5" lengthAdjust="spacingAndGlyphs">NCD</text>
<text x="149.2" y="273.0" font-size="6.94" text-anchor="middle" textLength="13.2" lengthAdjust="spacingAndGlyphs">HFD</text>
<line x1="115.00" y1="204.10" x2="126.50" y2="204.10" stroke="#000" stroke-width="1.3"/>
<circle cx="120.75" cy="201.25" r="1.15" fill="#000"/>
<line x1="143.10" y1="189.40" x2="155.00" y2="189.40" stroke="#000" stroke-width="1.3"/>
<circle cx="147.60" cy="186.55" r="1.15" fill="#000"/>
<circle cx="150.50" cy="186.55" r="1.15" fill="#000"/>
<line x1="147.60" y1="186.55" x2="150.50" y2="186.55" stroke="#888" stroke-width="0.5"/>
<line x1="182.90" y1="178.60" x2="182.90" y2="263.70" stroke="#000" stroke-width="1.5"/>
<line x1="179.50" y1="263.00" x2="182.90" y2="263.00" stroke="#000" stroke-width="1.1"/>
<text x="179.2" y="265.3" font-size="6.3" text-anchor="end">0.0</text>
<line x1="179.50" y1="241.97" x2="182.90" y2="241.97" stroke="#000" stroke-width="1.1"/>
<text x="179.2" y="244.275" font-size="6.3" text-anchor="end">0.5</text>
<line x1="179.50" y1="220.95" x2="182.90" y2="220.95" stroke="#000" stroke-width="1.1"/>
<text x="179.2" y="223.25" font-size="6.3" text-anchor="end">1.0</text>
<line x1="179.50" y1="199.93" x2="182.90" y2="199.93" stroke="#000" stroke-width="1.1"/>
<text x="179.2" y="202.22500000000002" font-size="6.3" text-anchor="end">1.5</text>
<line x1="179.50" y1="178.90" x2="182.90" y2="178.90" stroke="#000" stroke-width="1.1"/>
<text x="179.2" y="181.20000000000002" font-size="6.3" text-anchor="end">2.0</text>
<line x1="182.20" y1="263.00" x2="236.50" y2="263.00" stroke="#000" stroke-width="1.5"/>
<line x1="196.80" y1="263.00" x2="196.80" y2="265.30" stroke="#000" stroke-width="1.1"/>
<line x1="224.40" y1="263.00" x2="224.40" y2="265.30" stroke="#000" stroke-width="1.1"/>
<line x1="192.00" y1="218.85" x2="192.00" y2="214.22" stroke="#000" stroke-width="1.4"/>
<line x1="189.87" y1="214.22" x2="194.13" y2="214.22" stroke="#000" stroke-width="1.4"/>
<rect x="188.65" y="219.50" width="6.70" height="43.50" fill="#fff" stroke="#000" stroke-width="1.5"/>
<line x1="201.45" y1="208.34" x2="201.45" y2="204.13" stroke="#000" stroke-width="1.4"/>
<line x1="199.29" y1="204.13" x2="203.61" y2="204.13" stroke="#000" stroke-width="1.4"/>
<rect x="197.35" y="208.14" width="8.20" height="54.86" fill="#000"/>
<line x1="219.35" y1="223.05" x2="219.35" y2="218.85" stroke="#000" stroke-width="1.4"/>
<line x1="217.19" y1="218.85" x2="221.51" y2="218.85" stroke="#000" stroke-width="1.4"/>
<rect x="215.95" y="223.70" width="6.80" height="39.30" fill="#fff" stroke="#000" stroke-width="1.5"/>
<line x1="229.20" y1="207.91" x2="229.20" y2="202.03" stroke="#000" stroke-width="1.4"/>
<line x1="227.13" y1="202.03" x2="231.27" y2="202.03" stroke="#000" stroke-width="1.4"/>
<rect x="225.25" y="207.71" width="7.90" height="55.29" fill="#000"/>
<text x="201.7" y="184.7" font-size="8.62" font-weight="bold" font-style="italic" textLength="18.3" lengthAdjust="spacingAndGlyphs" style="stroke-width:0.25px">Pdx1</text>
<text x="197.1" y="273.7" font-size="6.94" text-anchor="middle" textLength="13.8" lengthAdjust="spacingAndGlyphs">NCD</text>
<text x="224.8" y="273.7" font-size="6.94" text-anchor="middle" textLength="12.4" lengthAdjust="spacingAndGlyphs">HFD</text>
<line x1="254.70" y1="179.80" x2="254.70" y2="263.70" stroke="#000" stroke-width="1.5"/>
<line x1="251.30" y1="263.00" x2="254.70" y2="263.00" stroke="#000" stroke-width="1.1"/>
<text x="250.99999999999997" y="265.3" font-size="6.3" text-anchor="end">0.0</text>
<line x1="251.30" y1="242.28" x2="254.70" y2="242.28" stroke="#000" stroke-width="1.1"/>
<text x="250.99999999999997" y="244.57500000000002" font-size="6.3" text-anchor="end">0.5</text>
<line x1="251.30" y1="221.55" x2="254.70" y2="221.55" stroke="#000" stroke-width="1.1"/>
<text x="250.99999999999997" y="223.85000000000002" font-size="6.3" text-anchor="end">1.0</text>
<line x1="251.30" y1="200.82" x2="254.70" y2="200.82" stroke="#000" stroke-width="1.1"/>
<text x="250.99999999999997" y="203.125" font-size="6.3" text-anchor="end">1.5</text>
<line x1="251.30" y1="180.10" x2="254.70" y2="180.10" stroke="#000" stroke-width="1.1"/>
<text x="250.99999999999997" y="182.4" font-size="6.3" text-anchor="end">2.0</text>
<line x1="254.00" y1="263.00" x2="308.00" y2="263.00" stroke="#000" stroke-width="1.5"/>
<line x1="268.50" y1="263.00" x2="268.50" y2="265.30" stroke="#000" stroke-width="1.1"/>
<line x1="296.00" y1="263.00" x2="296.00" y2="265.30" stroke="#000" stroke-width="1.1"/>
<line x1="263.65" y1="220.72" x2="263.65" y2="217.41" stroke="#000" stroke-width="1.4"/>
<line x1="261.49" y1="217.41" x2="265.81" y2="217.41" stroke="#000" stroke-width="1.4"/>
<rect x="260.25" y="221.37" width="6.80" height="41.63" fill="#fff" stroke="#000" stroke-width="1.5"/>
<line x1="273.35" y1="222.79" x2="273.35" y2="220.72" stroke="#000" stroke-width="1.4"/>
<line x1="271.19" y1="220.72" x2="275.51" y2="220.72" stroke="#000" stroke-width="1.4"/>
<rect x="269.25" y="222.59" width="8.20" height="40.41" fill="#000"/>
<line x1="291.25" y1="227.35" x2="291.25" y2="223.21" stroke="#000" stroke-width="1.4"/>
<line x1="289.09" y1="223.21" x2="293.41" y2="223.21" stroke="#000" stroke-width="1.4"/>
<rect x="287.85" y="228.00" width="6.80" height="35.00" fill="#fff" stroke="#000" stroke-width="1.5"/>
<line x1="300.90" y1="229.43" x2="300.90" y2="224.04" stroke="#000" stroke-width="1.4"/>
<line x1="298.72" y1="224.04" x2="303.08" y2="224.04" stroke="#000" stroke-width="1.4"/>
<rect x="296.75" y="229.23" width="8.30" height="33.77" fill="#000"/>
<text x="275.1" y="184.8" font-size="8.62" font-weight="bold" font-style="italic" textLength="14.8" lengthAdjust="spacingAndGlyphs" style="stroke-width:0.25px">Ins2</text>
<text x="269.2" y="273.7" font-size="6.94" text-anchor="middle" textLength="13.2" lengthAdjust="spacingAndGlyphs">NCD</text>
<text x="296.3" y="273.7" font-size="6.94" text-anchor="middle" textLength="13.2" lengthAdjust="spacingAndGlyphs">HFD</text>
<line x1="24.30" y1="277.10" x2="24.30" y2="199.80" stroke="#000" stroke-width="1.2"/>
<line x1="23.70" y1="276.50" x2="65.80" y2="276.50" stroke="#000" stroke-width="1.2"/>
<path d="M21.40,201.80 L24.30,195.80 L27.20,201.80 Z" fill="#000" stroke="none" stroke-width="1"/>
<path d="M63.80,273.60 L69.80,276.50 L63.80,279.40 Z" fill="#000" stroke="none" stroke-width="1"/>
<text x="34.6" y="286.0" font-size="8.51" text-anchor="middle" textLength="14.2" lengthAdjust="spacingAndGlyphs">Diet</text>
<text transform="translate(12.3,244.6) rotate(-90)" font-size="8.96" text-anchor="middle" textLength="64.1" lengthAdjust="spacingAndGlyphs" style="stroke-width:0.17px">mRNA expression</text>
<text transform="translate(21.2,244.7) rotate(-90)" font-size="8.96" text-anchor="middle" textLength="53.8" lengthAdjust="spacingAndGlyphs" style="stroke-width:0.17px">(fold WT chow)</text>
<text x="330.5" y="170.4" font-size="15.6" font-weight="bold" style="stroke-width:0.5px">G</text>
<rect x="369.35" y="161.35" width="12.90" height="7.00" fill="#fff" stroke="#000" stroke-width="1.7"/>
<text x="385.3" y="167.2" font-size="9.18" font-weight="bold" textLength="12.3" lengthAdjust="spacingAndGlyphs">WT</text>
<rect x="403.40" y="160.50" width="14.40" height="9.20" fill="#000"/>
<text x="419.5" y="168.2" font-size="8.74" font-weight="bold" textLength="23.4" lengthAdjust="spacingAndGlyphs">hIAPP</text>
<text x="442.90" y="165.05" font-size="4.84" font-weight="bold" textLength="12" lengthAdjust="spacingAndGlyphs">Tg/o</text>
<line x1="368.00" y1="179.10" x2="368.00" y2="264.10" stroke="#000" stroke-width="1.5"/>
<line x1="364.60" y1="263.40" x2="368.00" y2="263.40" stroke="#000" stroke-width="1.1"/>
<text x="364.3" y="265.7" font-size="6.3" text-anchor="end">0.0</text>
<line x1="364.60" y1="242.40" x2="368.00" y2="242.40" stroke="#000" stroke-width="1.1"/>
<text x="364.3" y="244.7" font-size="6.3" text-anchor="end">0.5</text>
<line x1="364.60" y1="221.40" x2="368.00" y2="221.40" stroke="#000" stroke-width="1.1"/>
<text x="364.3" y="223.7" font-size="6.3" text-anchor="end">1.0</text>
<line x1="364.60" y1="200.40" x2="368.00" y2="200.40" stroke="#000" stroke-width="1.1"/>
<text x="364.3" y="202.7" font-size="6.3" text-anchor="end">1.5</text>
<line x1="364.60" y1="179.40" x2="368.00" y2="179.40" stroke="#000" stroke-width="1.1"/>
<text x="364.3" y="181.7" font-size="6.3" text-anchor="end">2.0</text>
<line x1="367.30" y1="263.40" x2="424.50" y2="263.40" stroke="#000" stroke-width="1.5"/>
<line x1="382.40" y1="263.40" x2="382.40" y2="265.70" stroke="#000" stroke-width="1.1"/>
<line x1="410.00" y1="263.40" x2="410.00" y2="265.70" stroke="#000" stroke-width="1.1"/>
<line x1="377.25" y1="211.91" x2="377.25" y2="201.11" stroke="#000" stroke-width="1.4"/>
<line x1="374.98" y1="201.11" x2="379.52" y2="201.11" stroke="#000" stroke-width="1.4"/>
<rect x="373.65" y="212.56" width="7.20" height="50.84" fill="#fff" stroke="#000" stroke-width="1.5"/>
<line x1="387.55" y1="236.94" x2="387.55" y2="231.48" stroke="#000" stroke-width="1.4"/>
<line x1="385.28" y1="231.48" x2="389.82" y2="231.48" stroke="#000" stroke-width="1.4"/>
<rect x="383.25" y="236.74" width="8.60" height="26.66" fill="#000"/>
<line x1="405.20" y1="242.82" x2="405.20" y2="237.78" stroke="#000" stroke-width="1.4"/>
<line x1="403.18" y1="237.78" x2="407.22" y2="237.78" stroke="#000" stroke-width="1.4"/>
<rect x="402.05" y="243.47" width="6.30" height="19.93" fill="#fff" stroke="#000" stroke-width="1.5"/>
<line x1="414.95" y1="253.11" x2="414.95" y2="252.06" stroke="#000" stroke-width="1.4"/>
<line x1="412.91" y1="252.06" x2="416.99" y2="252.06" stroke="#000" stroke-width="1.4"/>
<rect x="411.05" y="252.91" width="7.80" height="10.49" fill="#000"/>
<text x="390.8" y="183.5" font-size="8.62" font-weight="bold" font-style="italic" textLength="12.3" lengthAdjust="spacingAndGlyphs" style="stroke-width:0.25px">Il10</text>
<text x="382.1" y="273.4" font-size="6.94" text-anchor="middle" textLength="14.6" lengthAdjust="spacingAndGlyphs">NCD</text>
<text x="410.3" y="273.4" font-size="6.94" text-anchor="middle" textLength="14.2" lengthAdjust="spacingAndGlyphs">HFD</text>
<line x1="376.20" y1="191.20" x2="405.40" y2="191.20" stroke="#000" stroke-width="1.3"/>
<circle cx="388.95" cy="188.35" r="1.15" fill="#000"/>
<circle cx="391.85" cy="188.35" r="1.15" fill="#000"/>
<line x1="388.95" y1="188.35" x2="391.85" y2="188.35" stroke="#888" stroke-width="0.5"/>
<line x1="376.20" y1="197.40" x2="388.90" y2="197.40" stroke="#000" stroke-width="1.3"/>
<circle cx="381.80" cy="194.55" r="1.15" fill="#000"/>
<line x1="444.40" y1="179.50" x2="444.40" y2="264.10" stroke="#000" stroke-width="1.5"/>
<line x1="441.00" y1="263.40" x2="444.40" y2="263.40" stroke="#000" stroke-width="1.1"/>
<text x="440.7" y="265.7" font-size="6.3" text-anchor="end">0.0</text>
<line x1="441.00" y1="242.40" x2="444.40" y2="242.40" stroke="#000" stroke-width="1.1"/>
<text x="440.7" y="244.7" font-size="6.3" text-anchor="end">0.5</text>
<line x1="441.00" y1="221.40" x2="444.40" y2="221.40" stroke="#000" stroke-width="1.1"/>
<text x="440.7" y="223.7" font-size="6.3" text-anchor="end">1.0</text>
<line x1="441.00" y1="200.40" x2="444.40" y2="200.40" stroke="#000" stroke-width="1.1"/>
<text x="440.7" y="202.7" font-size="6.3" text-anchor="end">1.5</text>
<line x1="441.00" y1="179.40" x2="444.40" y2="179.40" stroke="#000" stroke-width="1.1"/>
<text x="440.7" y="181.7" font-size="6.3" text-anchor="end">2.0</text>
<line x1="443.70" y1="263.40" x2="501.00" y2="263.40" stroke="#000" stroke-width="1.5"/>
<line x1="458.90" y1="263.40" x2="458.90" y2="265.70" stroke="#000" stroke-width="1.1"/>
<line x1="487.30" y1="263.40" x2="487.30" y2="265.70" stroke="#000" stroke-width="1.1"/>
<line x1="453.40" y1="219.72" x2="453.40" y2="217.20" stroke="#000" stroke-width="1.4"/>
<line x1="451.22" y1="217.20" x2="455.58" y2="217.20" stroke="#000" stroke-width="1.4"/>
<rect x="449.95" y="220.37" width="6.90" height="43.03" fill="#fff" stroke="#000" stroke-width="1.5"/>
<line x1="463.80" y1="221.40" x2="463.80" y2="213.84" stroke="#000" stroke-width="1.4"/>
<line x1="461.67" y1="213.84" x2="465.93" y2="213.84" stroke="#000" stroke-width="1.4"/>
<rect x="459.75" y="221.20" width="8.10" height="42.20" fill="#000"/>
<line x1="482.05" y1="234.00" x2="482.05" y2="231.90" stroke="#000" stroke-width="1.4"/>
<line x1="480.06" y1="231.90" x2="484.04" y2="231.90" stroke="#000" stroke-width="1.4"/>
<rect x="478.95" y="234.65" width="6.20" height="28.75" fill="#fff" stroke="#000" stroke-width="1.5"/>
<line x1="492.15" y1="241.56" x2="492.15" y2="238.62" stroke="#000" stroke-width="1.4"/>
<line x1="489.99" y1="238.62" x2="494.31" y2="238.62" stroke="#000" stroke-width="1.4"/>
<rect x="488.05" y="241.36" width="8.20" height="22.04" fill="#000"/>
<text x="465.0" y="183.7" font-size="8.62" font-weight="bold" font-style="italic" textLength="16.0" lengthAdjust="spacingAndGlyphs" style="stroke-width:0.25px">Il1rn</text>
<text x="459.0" y="273.8" font-size="6.94" text-anchor="middle" textLength="14.9" lengthAdjust="spacingAndGlyphs">NCD</text>
<text x="487.2" y="273.8" font-size="6.94" text-anchor="middle" textLength="14.5" lengthAdjust="spacingAndGlyphs">HFD</text>
<line x1="453.40" y1="204.30" x2="482.90" y2="204.30" stroke="#000" stroke-width="1.3"/>
<circle cx="467.10" cy="201.45" r="1.15" fill="#000"/>
<line x1="463.90" y1="210.30" x2="492.70" y2="210.30" stroke="#000" stroke-width="1.3"/>
<circle cx="479.95" cy="207.45" r="1.15" fill="#000"/>
<circle cx="482.85" cy="207.45" r="1.15" fill="#000"/>
<line x1="479.95" y1="207.45" x2="482.85" y2="207.45" stroke="#888" stroke-width="0.5"/>
<line x1="350.40" y1="279.30" x2="350.40" y2="202.60" stroke="#000" stroke-width="1.2"/>
<line x1="349.80" y1="278.70" x2="391.80" y2="278.70" stroke="#000" stroke-width="1.2"/>
<path d="M347.50,204.60 L350.40,198.60 L353.30,204.60 Z" fill="#000" stroke="none" stroke-width="1"/>
<path d="M389.80,275.80 L395.80,278.70 L389.80,281.60 Z" fill="#000" stroke="none" stroke-width="1"/>
<text x="367.8" y="287.8" font-size="8.51" text-anchor="middle" textLength="37.2" lengthAdjust="spacingAndGlyphs">Treatment</text>
<text transform="translate(338.3,247.5) rotate(-90)" font-size="9.3" text-anchor="middle" textLength="67.9" lengthAdjust="spacingAndGlyphs" style="stroke-width:0.17px">mRNA expression</text>
<text transform="translate(347.5,248.1) rotate(-90)" font-size="9.3" text-anchor="middle" textLength="55.8" lengthAdjust="spacingAndGlyphs" style="stroke-width:0.17px">(fold WT chow)</text>
<text x="-0.8" y="316.5" font-size="15.6" font-weight="bold" style="stroke-width:0.5px">H</text>
<rect x="28.35" y="307.45" width="12.70" height="7.10" fill="#fff" stroke="#000" stroke-width="1.7"/>
<text x="43.8" y="313.8" font-size="8.74" font-weight="bold" textLength="12.4" lengthAdjust="spacingAndGlyphs">WT</text>
<rect x="61.90" y="306.60" width="15.10" height="9.00" fill="#000"/>
<text x="78.8" y="314.5" font-size="8.74" textLength="23.0" lengthAdjust="spacingAndGlyphs">hIAPP</text>
<text x="101.80" y="311.35" font-size="4.84" textLength="12.4" lengthAdjust="spacingAndGlyphs">Tg/o</text>
<line x1="32.90" y1="324.50" x2="32.90" y2="409.50" stroke="#000" stroke-width="1.5"/>
<line x1="29.50" y1="408.80" x2="32.90" y2="408.80" stroke="#000" stroke-width="1.1"/>
<text x="29.2" y="411.1" font-size="6.3" text-anchor="end">0</text>
<line x1="29.50" y1="380.80" x2="32.90" y2="380.80" stroke="#000" stroke-width="1.1"/>
<text x="29.2" y="383.1" font-size="6.3" text-anchor="end">1</text>
<line x1="29.50" y1="352.80" x2="32.90" y2="352.80" stroke="#000" stroke-width="1.1"/>
<text x="29.2" y="355.1" font-size="6.3" text-anchor="end">2</text>
<line x1="29.50" y1="324.80" x2="32.90" y2="324.80" stroke="#000" stroke-width="1.1"/>
<text x="29.2" y="327.1" font-size="6.3" text-anchor="end">3</text>
<line x1="32.20" y1="408.80" x2="88.80" y2="408.80" stroke="#000" stroke-width="1.5"/>
<line x1="46.60" y1="408.80" x2="46.60" y2="411.10" stroke="#000" stroke-width="1.1"/>
<line x1="74.80" y1="408.80" x2="74.80" y2="411.10" stroke="#000" stroke-width="1.1"/>
<line x1="41.55" y1="378.08" x2="41.55" y2="373.66" stroke="#000" stroke-width="1.4"/>
<line x1="39.45" y1="373.66" x2="43.65" y2="373.66" stroke="#000" stroke-width="1.4"/>
<rect x="38.25" y="378.73" width="6.60" height="30.07" fill="#fff" stroke="#000" stroke-width="1.5"/>
<line x1="51.95" y1="382.76" x2="51.95" y2="379.68" stroke="#000" stroke-width="1.4"/>
<line x1="49.74" y1="379.68" x2="54.16" y2="379.68" stroke="#000" stroke-width="1.4"/>
<rect x="47.75" y="382.56" width="8.40" height="26.24" fill="#000"/>
<line x1="69.65" y1="383.32" x2="69.65" y2="380.60" stroke="#000" stroke-width="1.4"/>
<line x1="67.44" y1="380.60" x2="71.86" y2="380.60" stroke="#000" stroke-width="1.4"/>
<rect x="66.15" y="383.97" width="7.00" height="24.83" fill="#fff" stroke="#000" stroke-width="1.5"/>
<line x1="80.15" y1="391.44" x2="80.15" y2="387.80" stroke="#000" stroke-width="1.4"/>
<line x1="77.88" y1="387.80" x2="82.42" y2="387.80" stroke="#000" stroke-width="1.4"/>
<rect x="75.85" y="391.24" width="8.60" height="17.56" fill="#000"/>
<text x="55.7" y="330.4" font-size="8.62" font-weight="bold" font-style="italic" textLength="11.7" lengthAdjust="spacingAndGlyphs" style="stroke-width:0.25px">Tnf</text>
<text x="46.5" y="419.0" font-size="6.94" text-anchor="middle" textLength="13.6" lengthAdjust="spacingAndGlyphs">NCD</text>
<text x="74.9" y="419.0" font-size="6.94" text-anchor="middle" textLength="12.4" lengthAdjust="spacingAndGlyphs">HFD</text>
<line x1="98.80" y1="324.50" x2="98.80" y2="409.50" stroke="#000" stroke-width="1.5"/>
<line x1="95.40" y1="408.80" x2="98.80" y2="408.80" stroke="#000" stroke-width="1.1"/>
<text x="95.1" y="411.1" font-size="6.3" text-anchor="end">0</text>
<line x1="95.40" y1="380.80" x2="98.80" y2="380.80" stroke="#000" stroke-width="1.1"/>
<text x="95.1" y="383.1" font-size="6.3" text-anchor="end">1</text>
<line x1="95.40" y1="352.80" x2="98.80" y2="352.80" stroke="#000" stroke-width="1.1"/>
<text x="95.1" y="355.1" font-size="6.3" text-anchor="end">2</text>
<line x1="95.40" y1="324.80" x2="98.80" y2="324.80" stroke="#000" stroke-width="1.1"/>
<text x="95.1" y="327.1" font-size="6.3" text-anchor="end">3</text>
<line x1="98.10" y1="408.80" x2="153.60" y2="408.80" stroke="#000" stroke-width="1.5"/>
<line x1="112.60" y1="408.80" x2="112.60" y2="411.10" stroke="#000" stroke-width="1.1"/>
<line x1="139.90" y1="408.80" x2="139.90" y2="411.10" stroke="#000" stroke-width="1.1"/>
<line x1="107.40" y1="379.82" x2="107.40" y2="376.46" stroke="#000" stroke-width="1.4"/>
<line x1="105.27" y1="376.46" x2="109.53" y2="376.46" stroke="#000" stroke-width="1.4"/>
<rect x="104.05" y="380.47" width="6.70" height="28.33" fill="#fff" stroke="#000" stroke-width="1.5"/>
<line x1="117.75" y1="384.58" x2="117.75" y2="380.80" stroke="#000" stroke-width="1.4"/>
<line x1="115.59" y1="380.80" x2="119.91" y2="380.80" stroke="#000" stroke-width="1.4"/>
<rect x="113.65" y="384.38" width="8.20" height="24.42" fill="#000"/>
<line x1="134.50" y1="396.20" x2="134.50" y2="395.64" stroke="#000" stroke-width="1.4"/>
<line x1="132.43" y1="395.64" x2="136.57" y2="395.64" stroke="#000" stroke-width="1.4"/>
<rect x="131.25" y="396.85" width="6.50" height="11.95" fill="#fff" stroke="#000" stroke-width="1.5"/>
<line x1="144.85" y1="393.96" x2="144.85" y2="393.12" stroke="#000" stroke-width="1.4"/>
<line x1="142.75" y1="393.12" x2="146.95" y2="393.12" stroke="#000" stroke-width="1.4"/>
<rect x="140.85" y="393.76" width="8.00" height="15.04" fill="#000"/>
<text x="119.2" y="331.4" font-size="8.62" font-weight="bold" font-style="italic" textLength="15.4" lengthAdjust="spacingAndGlyphs" style="stroke-width:0.25px">Ccl2</text>
<text x="114.6" y="419.0" font-size="6.94" text-anchor="middle" textLength="14.1" lengthAdjust="spacingAndGlyphs">NCD</text>
<text x="139.7" y="419.0" font-size="6.94" text-anchor="middle" textLength="12.4" lengthAdjust="spacingAndGlyphs">HFD</text>
<line x1="106.60" y1="372.90" x2="134.90" y2="372.90" stroke="#000" stroke-width="1.3"/>
<circle cx="119.55" cy="370.05" r="1.15" fill="#000"/>
<circle cx="122.45" cy="370.05" r="1.15" fill="#000"/>
<line x1="119.55" y1="370.05" x2="122.45" y2="370.05" stroke="#888" stroke-width="0.5"/>
<line x1="163.90" y1="324.50" x2="163.90" y2="409.50" stroke="#000" stroke-width="1.5"/>
<line x1="160.50" y1="408.80" x2="163.90" y2="408.80" stroke="#000" stroke-width="1.1"/>
<text x="160.2" y="411.1" font-size="6.3" text-anchor="end">0</text>
<line x1="160.50" y1="380.80" x2="163.90" y2="380.80" stroke="#000" stroke-width="1.1"/>
<text x="160.2" y="383.1" font-size="6.3" text-anchor="end">1</text>
<line x1="160.50" y1="352.80" x2="163.90" y2="352.80" stroke="#000" stroke-width="1.1"/>
<text x="160.2" y="355.1" font-size="6.3" text-anchor="end">2</text>
<line x1="160.50" y1="324.80" x2="163.90" y2="324.80" stroke="#000" stroke-width="1.1"/>
<text x="160.2" y="327.1" font-size="6.3" text-anchor="end">3</text>
<line x1="163.20" y1="408.80" x2="219.60" y2="408.80" stroke="#000" stroke-width="1.5"/>
<line x1="177.80" y1="408.80" x2="177.80" y2="411.10" stroke="#000" stroke-width="1.1"/>
<line x1="205.30" y1="408.80" x2="205.30" y2="411.10" stroke="#000" stroke-width="1.1"/>
<line x1="172.35" y1="378.28" x2="172.35" y2="376.04" stroke="#000" stroke-width="1.4"/>
<line x1="170.14" y1="376.04" x2="174.56" y2="376.04" stroke="#000" stroke-width="1.4"/>
<rect x="168.85" y="378.93" width="7.00" height="29.87" fill="#fff" stroke="#000" stroke-width="1.5"/>
<line x1="183.00" y1="350.00" x2="183.00" y2="344.40" stroke="#000" stroke-width="1.4"/>
<line x1="180.87" y1="344.40" x2="185.13" y2="344.40" stroke="#000" stroke-width="1.4"/>
<rect x="178.95" y="349.80" width="8.10" height="59.00" fill="#000"/>
<line x1="199.75" y1="383.60" x2="199.75" y2="380.80" stroke="#000" stroke-width="1.4"/>
<line x1="197.59" y1="380.80" x2="201.91" y2="380.80" stroke="#000" stroke-width="1.4"/>
<rect x="196.35" y="384.25" width="6.80" height="24.55" fill="#fff" stroke="#000" stroke-width="1.5"/>
<line x1="210.30" y1="348.60" x2="210.30" y2="343.56" stroke="#000" stroke-width="1.4"/>
<line x1="207.95" y1="343.56" x2="212.65" y2="343.56" stroke="#000" stroke-width="1.4"/>
<rect x="205.85" y="348.40" width="8.90" height="60.40" fill="#000"/>
<text x="185.0" y="331.4" font-size="8.62" font-weight="bold" font-style="italic" textLength="12.4" lengthAdjust="spacingAndGlyphs" style="stroke-width:0.25px">Il1b</text>
<text x="179.0" y="419.4" font-size="6.94" text-anchor="middle" textLength="14.0" lengthAdjust="spacingAndGlyphs">NCD</text>
<text x="204.9" y="419.4" font-size="6.94" text-anchor="middle" textLength="13.1" lengthAdjust="spacingAndGlyphs">HFD</text>
<line x1="171.00" y1="342.50" x2="183.50" y2="342.50" stroke="#000" stroke-width="1.3"/>
<circle cx="175.80" cy="339.65" r="1.15" fill="#000"/>
<circle cx="178.70" cy="339.65" r="1.15" fill="#000"/>
<line x1="175.80" y1="339.65" x2="178.70" y2="339.65" stroke="#888" stroke-width="0.5"/>
<line x1="198.30" y1="342.30" x2="210.80" y2="342.30" stroke="#000" stroke-width="1.3"/>
<circle cx="203.10" cy="339.45" r="1.15" fill="#000"/>
<circle cx="206.00" cy="339.45" r="1.15" fill="#000"/>
<line x1="203.10" y1="339.45" x2="206.00" y2="339.45" stroke="#888" stroke-width="0.5"/>
<line x1="234.00" y1="324.50" x2="234.00" y2="409.50" stroke="#000" stroke-width="1.5"/>
<line x1="230.60" y1="408.80" x2="234.00" y2="408.80" stroke="#000" stroke-width="1.1"/>
<text x="230.29999999999998" y="411.1" font-size="6.3" text-anchor="end">0</text>
<line x1="230.60" y1="380.80" x2="234.00" y2="380.80" stroke="#000" stroke-width="1.1"/>
<text x="230.29999999999998" y="383.1" font-size="6.3" text-anchor="end">1</text>
<line x1="230.60" y1="352.80" x2="234.00" y2="352.80" stroke="#000" stroke-width="1.1"/>
<text x="230.29999999999998" y="355.1" font-size="6.3" text-anchor="end">2</text>
<line x1="230.60" y1="324.80" x2="234.00" y2="324.80" stroke="#000" stroke-width="1.1"/>
<text x="230.29999999999998" y="327.1" font-size="6.3" text-anchor="end">3</text>
<line x1="233.30" y1="408.80" x2="289.50" y2="408.80" stroke="#000" stroke-width="1.5"/>
<line x1="248.60" y1="408.80" x2="248.60" y2="411.10" stroke="#000" stroke-width="1.1"/>
<line x1="276.30" y1="408.80" x2="276.30" y2="411.10" stroke="#000" stroke-width="1.1"/>
<line x1="243.20" y1="379.68" x2="243.20" y2="378.00" stroke="#000" stroke-width="1.4"/>
<line x1="240.90" y1="378.00" x2="245.50" y2="378.00" stroke="#000" stroke-width="1.4"/>
<rect x="239.55" y="380.33" width="7.30" height="28.47" fill="#fff" stroke="#000" stroke-width="1.5"/>
<line x1="253.80" y1="367.92" x2="253.80" y2="364.28" stroke="#000" stroke-width="1.4"/>
<line x1="251.56" y1="364.28" x2="256.04" y2="364.28" stroke="#000" stroke-width="1.4"/>
<rect x="249.55" y="367.72" width="8.50" height="41.08" fill="#000"/>
<line x1="271.10" y1="379.12" x2="271.10" y2="378.00" stroke="#000" stroke-width="1.4"/>
<line x1="268.92" y1="378.00" x2="273.28" y2="378.00" stroke="#000" stroke-width="1.4"/>
<rect x="267.65" y="379.77" width="6.90" height="29.03" fill="#fff" stroke="#000" stroke-width="1.5"/>
<line x1="281.45" y1="349.44" x2="281.45" y2="342.16" stroke="#000" stroke-width="1.4"/>
<line x1="279.13" y1="342.16" x2="283.77" y2="342.16" stroke="#000" stroke-width="1.4"/>
<rect x="277.05" y="349.24" width="8.80" height="59.56" fill="#000"/>
<text x="253.5" y="331.4" font-size="8.62" font-weight="bold" font-style="italic" textLength="18.0" lengthAdjust="spacingAndGlyphs" style="stroke-width:0.25px">Nlrp3</text>
<text x="248.2" y="419.4" font-size="6.94" text-anchor="middle" textLength="15.5" lengthAdjust="spacingAndGlyphs">NCD</text>
<text x="275.5" y="419.4" font-size="6.94" text-anchor="middle" textLength="13.0" lengthAdjust="spacingAndGlyphs">HFD</text>
<line x1="269.00" y1="340.30" x2="280.80" y2="340.30" stroke="#000" stroke-width="1.3"/>
<circle cx="272.00" cy="337.45" r="1.15" fill="#000"/>
<circle cx="274.90" cy="337.45" r="1.15" fill="#000"/>
<circle cx="277.80" cy="337.45" r="1.15" fill="#000"/>
<line x1="272.00" y1="337.45" x2="277.80" y2="337.45" stroke="#888" stroke-width="0.5"/>
<line x1="20.00" y1="425.40" x2="20.00" y2="348.40" stroke="#000" stroke-width="1.2"/>
<line x1="19.40" y1="424.80" x2="61.40" y2="424.80" stroke="#000" stroke-width="1.2"/>
<path d="M17.10,350.40 L20.00,344.40 L22.90,350.40 Z" fill="#000" stroke="none" stroke-width="1"/>
<path d="M59.40,421.90 L65.40,424.80 L59.40,427.70 Z" fill="#000" stroke="none" stroke-width="1"/>
<text x="30.2" y="434.3" font-size="8.51" text-anchor="middle" textLength="14.0" lengthAdjust="spacingAndGlyphs">Diet</text>
<text transform="translate(8.5,395.3) rotate(-90)" font-size="9.52" text-anchor="middle" textLength="69.0" lengthAdjust="spacingAndGlyphs" style="stroke-width:0.17px">mRNA expression</text>
<text transform="translate(18.0,395.8) rotate(-90)" font-size="9.52" text-anchor="middle" textLength="56.9" lengthAdjust="spacingAndGlyphs" style="stroke-width:0.17px">(fold WT chow)</text>
<text x="314.8" y="316.5" font-size="15.6" font-weight="bold" style="stroke-width:0.5px">I</text>
<rect x="348.75" y="307.45" width="13.60" height="7.10" fill="#fff" stroke="#000" stroke-width="1.7"/>
<text x="365.0" y="313.8" font-size="8.74" font-weight="bold" textLength="11.9" lengthAdjust="spacingAndGlyphs">WT</text>
<rect x="383.20" y="306.50" width="14.60" height="9.00" fill="#000"/>
<text x="399.9" y="313.9" font-size="8.74" font-weight="bold" textLength="22.9" lengthAdjust="spacingAndGlyphs">hIAPP</text>
<text x="422.80" y="310.75" font-size="4.84" font-weight="bold" textLength="11.7" lengthAdjust="spacingAndGlyphs">Tg/o</text>
<line x1="347.80" y1="324.50" x2="347.80" y2="409.50" stroke="#000" stroke-width="1.5"/>
<line x1="344.40" y1="408.80" x2="347.80" y2="408.80" stroke="#000" stroke-width="1.1"/>
<text x="344.1" y="411.1" font-size="6.3" text-anchor="end">0</text>
<line x1="344.40" y1="387.80" x2="347.80" y2="387.80" stroke="#000" stroke-width="1.1"/>
<text x="344.1" y="390.1" font-size="6.3" text-anchor="end">2</text>
<line x1="344.40" y1="366.80" x2="347.80" y2="366.80" stroke="#000" stroke-width="1.1"/>
<text x="344.1" y="369.1" font-size="6.3" text-anchor="end">4</text>
<line x1="344.40" y1="345.80" x2="347.80" y2="345.80" stroke="#000" stroke-width="1.1"/>
<text x="344.1" y="348.1" font-size="6.3" text-anchor="end">6</text>
<line x1="344.40" y1="324.80" x2="347.80" y2="324.80" stroke="#000" stroke-width="1.1"/>
<text x="344.1" y="327.1" font-size="6.3" text-anchor="end">8</text>
<line x1="347.10" y1="408.80" x2="404.10" y2="408.80" stroke="#000" stroke-width="1.5"/>
<line x1="361.60" y1="408.80" x2="361.60" y2="411.10" stroke="#000" stroke-width="1.1"/>
<line x1="389.30" y1="408.80" x2="389.30" y2="411.10" stroke="#000" stroke-width="1.1"/>
<rect x="353.25" y="397.90" width="6.90" height="10.90" fill="#fff" stroke="#000" stroke-width="1.5"/>
<line x1="366.65" y1="380.45" x2="366.65" y2="374.15" stroke="#000" stroke-width="1.4"/>
<line x1="364.38" y1="374.15" x2="368.92" y2="374.15" stroke="#000" stroke-width="1.4"/>
<rect x="362.35" y="380.25" width="8.60" height="28.55" fill="#000"/>
<line x1="384.35" y1="393.57" x2="384.35" y2="391.26" stroke="#000" stroke-width="1.4"/>
<line x1="382.19" y1="391.26" x2="386.51" y2="391.26" stroke="#000" stroke-width="1.4"/>
<rect x="380.95" y="394.22" width="6.80" height="14.58" fill="#fff" stroke="#000" stroke-width="1.5"/>
<line x1="394.55" y1="359.98" x2="394.55" y2="355.25" stroke="#000" stroke-width="1.4"/>
<line x1="392.23" y1="355.25" x2="396.87" y2="355.25" stroke="#000" stroke-width="1.4"/>
<rect x="390.15" y="359.78" width="8.80" height="49.02" fill="#000"/>
<text x="359.6" y="330.6" font-size="8.62" font-weight="bold" font-style="italic" textLength="30.8" lengthAdjust="spacingAndGlyphs" style="stroke-width:0.25px">Il1b/Il1rn</text>
<text x="362.0" y="419.1" font-size="6.94" text-anchor="middle" textLength="13.1" lengthAdjust="spacingAndGlyphs">NCD</text>
<text x="388.7" y="419.1" font-size="6.94" text-anchor="middle" textLength="14.2" lengthAdjust="spacingAndGlyphs">HFD</text>
<line x1="356.50" y1="370.60" x2="369.20" y2="370.60" stroke="#000" stroke-width="1.3"/>
<circle cx="361.40" cy="367.75" r="1.15" fill="#000"/>
<circle cx="364.30" cy="367.75" r="1.15" fill="#000"/>
<line x1="361.40" y1="367.75" x2="364.30" y2="367.75" stroke="#888" stroke-width="0.5"/>
<line x1="367.40" y1="345.50" x2="396.30" y2="345.50" stroke="#000" stroke-width="1.3"/>
<circle cx="379.75" cy="342.65" r="1.15" fill="#000"/>
<circle cx="382.65" cy="342.65" r="1.15" fill="#000"/>
<line x1="379.75" y1="342.65" x2="382.65" y2="342.65" stroke="#888" stroke-width="0.5"/>
<line x1="384.50" y1="353.50" x2="396.30" y2="353.50" stroke="#000" stroke-width="1.3"/>
<circle cx="387.50" cy="350.65" r="1.15" fill="#000"/>
<circle cx="390.40" cy="350.65" r="1.15" fill="#000"/>
<circle cx="393.30" cy="350.65" r="1.15" fill="#000"/>
<line x1="387.50" y1="350.65" x2="393.30" y2="350.65" stroke="#888" stroke-width="0.5"/>
<text x="376.0" y="428.5" font-size="7.84" text-anchor="middle" textLength="13.5" lengthAdjust="spacingAndGlyphs">Diet</text>
<text transform="translate(326.3,365.9) rotate(-90)" font-size="7.84" text-anchor="middle" textLength="56.5" lengthAdjust="spacingAndGlyphs" style="stroke-width:0.17px">mRNA expression</text>
<text transform="translate(333.4,365.9) rotate(-90)" font-size="7.84" text-anchor="middle" textLength="48.0" lengthAdjust="spacingAndGlyphs" style="stroke-width:0.17px">(fold WT chow)</text>
</svg>
</body></html>
